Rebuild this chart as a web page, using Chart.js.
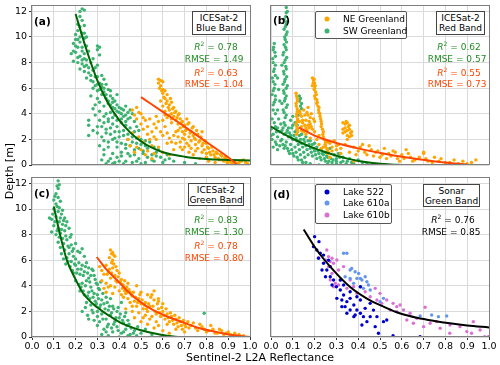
<!DOCTYPE html>
<html>
<head>
<meta charset="utf-8">
<script src="https://cdn.jsdelivr.net/npm/chart.js@4.4.1/dist/chart.umd.min.js"></script>
<style>
  body { margin: 0; background: #fff; }
  #wrap { position: relative; width: 500px; height: 365px; font-family: 'DejaVu Sans', sans-serif; }
  #wrap canvas { position: absolute; left: 0; top: 0; }
  .t { position: absolute; white-space: nowrap; font-size: 9px; line-height: 1; transform: translate(-50%, -50%); }
  .l { transform: translate(0, -50%); }
  .tag { font-weight: bold; font-size: 10.5px; }
  .box { position: absolute; border: 1px solid #444; background: #fff; box-sizing: border-box;
         font-size: 9px; line-height: 10px; text-align: center; padding-top: 1px; }
  .leg { position: absolute; border: 1px solid #555; border-radius: 2px; background: rgba(255,255,255,0.85); box-sizing: border-box; }
  .dot { position: absolute; width: 5px; height: 5px; border-radius: 50%; transform: translate(-50%, -50%); }
  sup { font-size: 6px; vertical-align: 4px; }
</style>
</head>
<body>
<div id="wrap">
  <canvas id="pa" width="500" height="365"></canvas>
  <canvas id="pb" width="500" height="365"></canvas>
  <canvas id="pc" width="500" height="365"></canvas>
  <canvas id="pd" width="500" height="365"></canvas>

  <!-- axis titles -->
  <div class="t" style="left:9px; top:171px; font-size:11px; transform:translate(-50%,-50%) rotate(-90deg);">Depth [m]</div>
  <div class="t" style="left:260px; top:357px; font-size:11px;">Sentinel-2 L2A Reflectance</div>

  <!-- panel a -->
  <div class="t l tag" style="left:34px; top:21px;">(a)</div>
  <div class="box" style="left:192px; top:11px; width:54px; height:24px;">ICESat-2<br>Blue Band</div>
  <div class="t" style="left:216px; top:46px; color:#228B22;"><i>R</i><sup>2</sup> = 0.78</div>
  <div class="t" style="left:214px; top:59px; color:#228B22;">RMSE = 1.49</div>
  <div class="t" style="left:216px; top:72px; color:#FF4500;"><i>R</i><sup>2</sup> = 0.63</div>
  <div class="t" style="left:214px; top:84px; color:#FF4500;">RMSE = 1.04</div>

  <!-- panel b -->
  <div class="t l tag" style="left:273px; top:20px;">(b)</div>
  <div class="leg" style="left:315px; top:11px; width:92px; height:28px;"></div>
  <div class="dot" style="left:327px; top:19px; background:#FFA500;"></div>
  <div class="t l" style="left:343px; top:19px;">NE Greenland</div>
  <div class="dot" style="left:327px; top:31px; background:#3CB371;"></div>
  <div class="t l" style="left:343px; top:31px;">SW Greenland</div>
  <div class="box" style="left:436px; top:11px; width:49px; height:24px;">ICESat-2<br>Red Band</div>
  <div class="t" style="left:459px; top:46px; color:#228B22;"><i>R</i><sup>2</sup> = 0.62</div>
  <div class="t" style="left:457px; top:59px; color:#228B22;">RMSE = 0.57</div>
  <div class="t" style="left:459px; top:72px; color:#FF4500;"><i>R</i><sup>2</sup> = 0.55</div>
  <div class="t" style="left:457px; top:84px; color:#FF4500;">RMSE = 0.73</div>

  <!-- panel c -->
  <div class="t l tag" style="left:34px; top:193px;">(c)</div>
  <div class="box" style="left:188px; top:183px; width:56px; height:23px;">ICESat-2<br>Green Band</div>
  <div class="t" style="left:216px; top:219px; color:#228B22;"><i>R</i><sup>2</sup> = 0.83</div>
  <div class="t" style="left:214px; top:232px; color:#228B22;">RMSE = 1.30</div>
  <div class="t" style="left:216px; top:245px; color:#FF4500;"><i>R</i><sup>2</sup> = 0.78</div>
  <div class="t" style="left:214px; top:258px; color:#FF4500;">RMSE = 0.80</div>

  <!-- panel d -->
  <div class="t l tag" style="left:273px; top:194px;">(d)</div>
  <div class="leg" style="left:315px; top:184px; width:77px; height:40px;"></div>
  <div class="dot" style="left:327px; top:192px; background:#0000CD;"></div>
  <div class="t l" style="left:343px; top:192px;">Lake 522</div>
  <div class="dot" style="left:327px; top:203px; background:#6495ED;"></div>
  <div class="t l" style="left:343px; top:203px;">Lake 610a</div>
  <div class="dot" style="left:327px; top:215px; background:#DA70D6;"></div>
  <div class="t l" style="left:343px; top:215px;">Lake 610b</div>
  <div class="box" style="left:423px; top:184px; width:57px; height:23px;">Sonar<br>Green Band</div>
  <div class="t" style="left:453px; top:219px;"><i>R</i><sup>2</sup> = 0.76</div>
  <div class="t" style="left:451px; top:232px;">RMSE = 0.85</div>
</div>

<script>
// tick values
const xTicks = [0, 0.1, 0.2, 0.3, 0.4, 0.5, 0.6, 0.7, 0.8, 0.9, 1.0];
const yTicks = [0, 2, 4, 6, 8, 10, 12];

// (a) blue band, ICESat-2
const aSW = [[0.23,12.2],[0.22,12.0],[0.24,12.1],[0.22,11.6],[0.23,11.3],[0.21,11.0],[0.22,10.8],[0.24,10.9],[0.21,10.5],[0.23,10.3],[0.22,10.0],[0.24,9.9],[0.19,9.5],[0.2,9.3],[0.21,9.2],[0.23,9.2],[0.25,9.3],[0.18,8.7],[0.2,8.8],[0.22,8.5],[0.24,8.7],[0.26,8.9],[0.19,8.1],[0.21,8.0],[0.23,7.9],[0.25,8.2],[0.27,8.0],[0.3,9.3],[0.31,9.2],[0.3,9.0],[0.31,8.6],[0.22,7.5],[0.24,7.3],[0.26,7.6],[0.28,7.4],[0.3,7.8],[0.32,7.0],[0.25,6.8],[0.27,6.6],[0.29,6.9],[0.31,6.4],[0.33,6.7],[0.28,6.0],[0.3,5.8],[0.33,6.0],[0.35,5.9],[0.27,5.4],[0.3,5.2],[0.32,5.5],[0.34,5.2],[0.36,5.4],[0.38,5.0],[0.29,4.7],[0.33,4.6],[0.35,4.8],[0.37,4.5],[0.39,4.7],[0.41,4.4],[0.43,4.6],[0.45,4.3],[0.31,4.2],[0.34,4.0],[0.36,4.1],[0.38,3.9],[0.4,4.1],[0.42,3.8],[0.44,3.6],[0.26,3.5],[0.26,3.1],[0.26,2.3],[0.31,3.5],[0.33,3.3],[0.35,3.4],[0.37,3.2],[0.39,3.0],[0.41,3.3],[0.43,3.1],[0.45,2.9],[0.47,2.6],[0.3,2.5],[0.32,2.2],[0.34,2.8],[0.36,2.4],[0.38,2.1],[0.4,2.6],[0.42,2.3],[0.44,2.0],[0.46,1.8],[0.48,2.1],[0.5,1.6],[0.52,1.9],[0.31,1.5],[0.33,1.2],[0.35,1.8],[0.37,0.9],[0.39,1.4],[0.41,1.0],[0.43,1.6],[0.45,0.7],[0.47,1.2],[0.49,0.5],[0.51,0.9],[0.53,1.3],[0.55,0.8],[0.57,1.0],[0.59,0.6],[0.32,0.4],[0.34,0.1],[0.36,0.5],[0.38,0.2],[0.4,0.3],[0.42,0.1],[0.46,0.2],[0.5,0.1],[0.56,0.3],[0.6,0.2],[0.62,0.8],[0.65,0.3],[0.7,0.2],[0.75,0.1],
    [0.2,10.2],[0.21,9.8],[0.22,9.6],[0.23,8.9],[0.24,8.3],[0.25,7.8],[0.26,7.2],[0.27,7.0],[0.28,6.5],[0.29,6.2],[0.3,6.3],[0.31,5.9],[0.32,6.1],[0.33,5.7],[0.34,5.5],[0.35,5.0],[0.36,4.7],[0.37,4.9],[0.38,4.4],[0.39,4.2],[0.4,4.5],[0.41,4.0],[0.42,4.3],[0.43,3.9],[0.44,4.1],[0.45,3.7],[0.46,4.0],[0.47,3.4],[0.48,3.0],[0.49,2.7],[0.33,3.8],[0.35,3.6],[0.37,3.7],[0.39,3.5],[0.41,3.6],[0.43,3.4],[0.32,3.0],[0.34,2.5],[0.36,2.9],[0.38,2.6],[0.4,2.2],[0.42,2.7],[0.44,2.4],[0.46,2.2],[0.48,1.7],[0.5,2.0],[0.52,1.5],[0.54,1.8],[0.56,1.4],[0.58,1.2],[0.33,1.9],[0.35,1.4],[0.37,2.0],[0.39,1.8],[0.41,1.7],[0.43,1.3],[0.45,1.5],[0.47,0.8],[0.49,1.3],[0.51,1.1],[0.53,0.6],[0.55,0.4],[0.57,0.7],[0.61,0.4],[0.63,0.5],[0.33,0.8],[0.35,0.3],[0.37,0.1],[0.39,0.6],[0.41,0.7],[0.43,0.3],[0.44,0.9],[0.48,0.3],[0.52,0.2],[0.24,10.3],[0.25,10.0],[0.2,9.8],[0.19,8.9],[0.21,8.4],[0.23,8.2],[0.28,8.3],[0.29,7.6],[0.24,7.7],[0.3,6.9],[0.32,6.3],[0.34,6.3],[0.36,5.8],[0.37,5.2],[0.39,5.5],[0.31,4.9],[0.28,4.4],[0.29,3.9],[0.3,3.0],[0.28,2.7]];
const aNE = [[0.46,4.3],[0.47,3.9],[0.48,3.6],[0.49,4.1],[0.5,3.2],[0.51,2.8],[0.52,3.5],[0.53,2.4],[0.44,2.0],[0.45,1.5],[0.47,1.0],[0.5,1.2],[0.52,0.8],[0.55,1.5],[0.55,2.6],[0.56,3.2],[0.57,3.8],[0.58,6.7],[0.58,6.4],[0.59,6.6],[0.59,6.2],[0.6,6.5],[0.6,5.9],[0.6,5.6],[0.61,5.8],[0.61,5.2],[0.62,5.0],[0.62,5.5],[0.63,4.7],[0.63,4.3],[0.64,4.9],[0.64,4.0],[0.65,4.5],[0.65,3.8],[0.66,4.2],[0.66,3.5],[0.67,3.9],[0.67,3.2],[0.68,3.6],[0.68,2.9],[0.69,3.4],[0.69,2.6],[0.7,3.1],[0.7,2.4],[0.71,3.6],[0.71,2.8],[0.72,2.2],[0.72,3.3],[0.73,2.6],[0.73,1.9],[0.74,2.3],[0.74,3.0],[0.75,2.0],[0.75,1.6],[0.76,2.4],[0.76,1.3],[0.77,1.9],[0.78,1.5],[0.78,2.6],[0.79,1.2],[0.8,1.7],[0.8,0.9],[0.81,1.3],[0.82,0.8],[0.83,1.1],[0.84,0.6],[0.85,0.9],[0.86,0.4],[0.87,0.7],[0.88,0.3],[0.89,0.5],[0.9,0.2],[0.91,0.4],[0.92,0.1],[0.93,0.3],[0.95,0.2],[0.97,0.4],[0.99,0.1],[0.57,2.0],[0.58,1.4],[0.6,2.3],[0.62,1.7],[0.63,2.1],[0.65,1.2],[0.66,2.6],[0.68,1.8],[0.7,1.4],[0.72,1.0],[0.62,3.7],[0.6,4.6],[0.61,4.2],[0.59,5.0],[0.64,3.3],[0.67,2.2],[0.69,1.2],[0.74,0.8],[0.77,0.5],[0.81,0.3],[0.84,0.2],[0.55,0.5],
    [0.585,6.0],[0.595,5.8],[0.605,5.3],[0.615,4.8],[0.625,4.5],[0.635,5.2],[0.645,4.4],[0.655,4.1],[0.665,3.7],[0.675,4.0],[0.685,3.3],[0.695,3.0],[0.705,2.7],[0.715,3.2],[0.725,2.5],[0.735,2.9],[0.745,2.1],[0.755,2.7],[0.765,1.8],[0.775,2.2],[0.785,1.7],[0.795,1.9],[0.805,1.4],[0.815,1.0],[0.825,1.4],[0.835,0.8],[0.845,1.0],[0.855,0.5],[0.865,0.8],[0.875,0.4],[0.885,0.6],[0.895,0.2],[0.905,0.3],[0.915,0.2],[0.94,0.1],[0.96,0.3],[0.98,0.2],[0.48,4.5],[0.5,4.0],[0.51,3.7],[0.53,3.0],[0.54,3.6],[0.54,2.0],[0.56,2.2],[0.57,2.9],[0.58,3.4],[0.59,2.6],[0.61,3.0],[0.62,2.5],[0.64,1.8],[0.66,1.7],[0.68,1.4],[0.7,2.0],[0.71,1.7],[0.73,1.3],[0.75,1.1],[0.78,1.0],[0.8,0.6],[0.46,2.5],[0.48,1.4],[0.49,2.2],[0.51,1.8],[0.53,1.1],[0.56,0.9],[0.6,1.0],[0.63,0.8],[0.65,2.3],[0.67,2.7],[0.69,2.1],[0.72,1.5],[0.6,3.5],[0.61,3.9],[0.63,3.9],[0.64,3.6]];
const aFitSW = [[0.2,11.8],[0.25,9.0],[0.3,6.6],[0.35,4.8],[0.4,3.5],[0.45,2.55],[0.5,1.85],[0.55,1.35],[0.6,1.0],[0.7,0.65],[0.8,0.47],[0.9,0.4],[1.0,0.35]];
const aFitNE = [[0.5,5.3],[0.6,4.15],[0.7,3.0],[0.8,1.8],[0.9,0.6],[0.94,0.05]];

// (b) red band, ICESat-2
const bSW = [[0.07,12.3],[0.07,11.9],[0.06,11.4],[0.07,11.0],[0.06,10.6],[0.07,10.2],[0.065,9.8],[0.06,9.4],[0.07,9.0],[0.055,8.6],[0.065,8.2],[0.05,7.8],[0.07,7.5],[0.06,7.1],[0.065,6.7],[0.055,6.3],[0.07,6.0],[0.06,5.6],[0.065,5.2],[0.05,4.8],[0.07,4.5],[0.06,4.1],[0.065,3.7],[0.015,9.5],[0.01,9.0],[0.02,8.5],[0.01,8.0],[0.015,7.5],[0.02,7.0],[0.01,6.5],[0.015,6.0],[0.005,5.5],[0.02,5.1],[0.01,4.7],[0.03,6.8],[0.035,5.9],[0.04,5.0],[0.03,4.3],[0.13,5.4],[0.13,5.0],[0.135,4.6],[0.13,4.2],[0.125,3.9],[0.1,3.8],[0.11,3.3],[0.09,3.5],[0.0,2.8],[0.01,2.4],[0.02,3.0],[0.03,2.2],[0.04,2.6],[0.05,2.0],[0.06,2.4],[0.07,1.8],[0.08,2.2],[0.09,1.6],[0.1,2.0],[0.11,1.4],[0.12,1.9],[0.13,1.2],[0.14,1.7],[0.15,1.0],[0.16,1.5],[0.17,0.8],[0.18,1.3],[0.19,0.7],[0.2,1.1],[0.21,0.5],[0.22,0.9],[0.23,0.4],[0.24,0.8],[0.25,0.3],[0.26,0.6],[0.28,0.2],[0.3,0.5],[0.32,0.2],[0.35,0.3],[0.38,0.1],[0.42,0.2],[0.02,1.8],[0.04,1.5],[0.06,1.3],[0.08,1.1],[0.1,0.9],[0.12,0.6],[0.14,0.4],[0.16,0.2],[0.18,0.1],[0.03,2.9],[0.05,2.7],[0.07,2.5],[0.09,2.3],[0.11,2.6],[0.13,2.3],[0.15,2.0],[0.17,1.9],[0.19,1.6],[0.21,1.4],[0.23,1.2],[0.25,1.0],[0.27,1.3],[0.29,0.8],[0.31,0.9],[0.33,0.6],[0.36,0.5],[0.4,0.4],[0.44,0.1],[0.26,0.1],[0.22,0.0],[0.3,0.1],[0.005,2.0],[0.015,3.3],[0.025,1.6],
    [0.075,12.0],[0.068,11.6],[0.072,11.2],[0.066,10.8],[0.074,10.4],[0.063,10.0],[0.071,9.6],[0.067,9.2],[0.058,8.8],[0.072,8.4],[0.06,8.0],[0.068,7.7],[0.058,7.3],[0.072,6.9],[0.062,6.5],[0.075,6.2],[0.058,5.8],[0.07,5.4],[0.062,5.0],[0.075,4.7],[0.056,4.3],[0.07,3.9],[0.06,3.3],[0.012,9.2],[0.018,8.8],[0.008,8.3],[0.02,7.8],[0.012,7.3],[0.006,6.8],[0.018,6.3],[0.01,5.8],[0.02,5.4],[0.015,4.9],[0.01,4.3],[0.02,4.0],[0.005,3.6],[0.045,3.2],[0.055,2.9],[0.065,3.1],[0.075,2.7],[0.085,2.5],[0.095,2.9],[0.105,2.3],[0.115,2.1],[0.125,1.6],[0.135,2.0],[0.145,1.4],[0.155,1.8],[0.165,1.2],[0.175,1.6],[0.185,1.0],[0.195,1.3],[0.205,0.8],[0.215,1.1],[0.225,0.6],[0.235,0.9],[0.245,0.5],[0.255,0.7],[0.265,0.3],[0.275,0.5],[0.285,0.4],[0.3,0.3],[0.315,0.6],[0.33,0.3],[0.345,0.1],[0.37,0.2],[0.045,1.9],[0.055,1.6],[0.065,1.5],[0.075,1.3],[0.085,0.9],[0.095,1.2],[0.105,0.7],[0.115,1.0],[0.125,0.4],[0.135,0.8],[0.145,0.2],[0.155,0.6],[0.01,1.4],[0.03,1.2],[0.0,2.3],[0.035,3.6],[0.025,2.6],[0.14,2.4],[0.16,2.2],[0.18,1.9],[0.2,1.7],[0.12,2.8],[0.1,3.1],[0.08,2.9],[0.14,4.4],[0.135,5.2],[0.14,4.8],[0.12,3.1]];
const bNE = [[0.115,5.6],[0.12,5.2],[0.115,4.8],[0.12,4.4],[0.118,4.0],[0.122,3.6],[0.115,3.2],[0.12,2.8],[0.118,2.4],[0.13,4.2],[0.14,3.8],[0.15,4.3],[0.16,3.5],[0.17,3.9],[0.18,3.2],[0.14,3.0],[0.15,2.6],[0.16,2.9],[0.17,4.5],[0.18,3.7],[0.19,2.8],[0.13,3.4],[0.2,3.4],[0.19,6.8],[0.195,6.6],[0.2,6.4],[0.19,6.2],[0.2,6.0],[0.205,5.7],[0.2,5.4],[0.21,5.1],[0.21,4.8],[0.22,4.5],[0.22,4.1],[0.225,3.8],[0.23,3.4],[0.23,3.0],[0.24,2.6],[0.24,2.2],[0.25,1.8],[0.25,1.5],[0.26,1.2],[0.26,0.9],[0.33,3.3],[0.34,3.2],[0.35,3.3],[0.36,3.1],[0.34,2.9],[0.35,2.7],[0.36,2.8],[0.33,2.5],[0.35,2.3],[0.37,2.6],[0.36,2.2],[0.21,2.0],[0.22,1.6],[0.23,1.3],[0.27,1.7],[0.28,1.4],[0.29,1.9],[0.3,1.2],[0.31,1.6],[0.32,0.9],[0.38,1.4],[0.4,1.1],[0.42,1.6],[0.44,0.8],[0.46,1.2],[0.48,1.0],[0.5,0.6],[0.52,1.3],[0.54,0.9],[0.56,1.1],[0.58,0.5],[0.6,0.8],[0.62,1.2],[0.64,0.6],[0.66,0.4],[0.7,0.9],[0.7,1.0],[0.72,0.3],[0.75,0.6],[0.78,0.5],[0.8,0.2],[0.84,0.4],[0.88,0.3],[0.94,0.4],[0.9,0.1],[0.27,0.6],[0.38,0.3],
    [0.117,5.4],[0.121,5.0],[0.116,4.6],[0.121,4.2],[0.117,3.8],[0.12,3.4],[0.118,3.0],[0.122,2.6],[0.135,4.0],[0.145,3.5],[0.155,3.9],[0.165,4.1],[0.175,3.4],[0.185,3.0],[0.145,3.3],[0.155,3.1],[0.165,2.7],[0.175,2.9],[0.185,4.0],[0.195,3.6],[0.17,3.1],[0.14,2.7],[0.198,6.7],[0.193,6.4],[0.203,6.2],[0.198,5.9],[0.208,5.5],[0.203,5.2],[0.212,4.9],[0.215,4.6],[0.218,4.3],[0.224,4.0],[0.228,3.6],[0.232,3.2],[0.236,2.8],[0.238,2.4],[0.244,2.0],[0.248,1.6],[0.255,1.3],[0.262,1.0],[0.345,3.4],[0.355,3.0],[0.34,2.6],[0.365,2.5],[0.33,2.8],[0.35,2.0],[0.37,2.3],[0.24,1.4],[0.26,1.8],[0.28,1.1],[0.3,1.5],[0.32,1.3],[0.34,1.6],[0.36,1.0],[0.39,0.8],[0.41,1.4],[0.43,1.0],[0.45,1.5],[0.47,0.7],[0.49,1.1],[0.51,0.8],[0.53,0.5],[0.55,0.7],[0.57,1.0],[0.59,0.3],[0.61,0.5],[0.63,0.9],[0.65,0.3],[0.68,0.6],[0.71,0.5],[0.74,0.2],[0.77,0.3],[0.82,0.2],[0.86,0.1],[0.92,0.2],[0.16,2.4],[0.18,2.1],[0.2,2.6],[0.22,2.3]];
const bFitSW = [[0,3.0],[0.05,2.5],[0.1,2.05],[0.15,1.65],[0.2,1.3],[0.25,1.0],[0.3,0.72],[0.35,0.5],[0.4,0.32],[0.45,0.2],[0.5,0.1],[0.55,0.04],[0.6,0.0]];
const bFitNE = [[0.127,2.94],[0.2,2.3],[0.285,1.8],[0.4,1.3],[0.515,0.9],[0.6,0.65],[0.745,0.3],[0.82,0.15],[0.9,0.04]];

// (c) green band, ICESat-2
const cSW = [[0.12,12.2],[0.125,11.9],[0.12,11.6],[0.11,11.2],[0.12,10.9],[0.1,10.7],[0.11,10.4],[0.13,10.6],[0.1,10.0],[0.12,9.8],[0.08,9.3],[0.09,9.2],[0.11,9.4],[0.13,9.3],[0.15,9.3],[0.16,9.0],[0.14,8.8],[0.1,8.7],[0.12,8.5],[0.17,8.5],[0.09,8.2],[0.11,8.0],[0.13,8.1],[0.15,8.3],[0.14,7.7],[0.12,7.4],[0.16,7.6],[0.18,7.2],[0.13,7.0],[0.15,6.8],[0.17,6.5],[0.19,6.9],[0.16,6.2],[0.18,5.9],[0.2,6.1],[0.22,6.6],[0.23,5.6],[0.21,5.3],[0.25,5.8],[0.19,5.0],[0.22,4.9],[0.24,5.1],[0.26,5.4],[0.27,4.8],[0.28,5.2],[0.29,4.5],[0.2,4.4],[0.23,4.2],[0.25,4.4],[0.27,3.9],[0.3,4.1],[0.31,3.7],[0.22,3.6],[0.24,3.3],[0.26,3.5],[0.28,3.1],[0.3,3.3],[0.32,2.9],[0.34,3.1],[0.25,2.7],[0.27,2.5],[0.29,2.8],[0.31,2.3],[0.33,2.6],[0.35,2.1],[0.37,2.4],[0.39,2.0],[0.28,1.9],[0.3,1.6],[0.32,1.8],[0.34,1.4],[0.36,1.7],[0.38,1.2],[0.4,1.5],[0.42,1.1],[0.44,1.3],[0.3,0.9],[0.33,0.6],[0.35,1.0],[0.37,0.4],[0.39,0.8],[0.41,0.3],[0.43,0.6],[0.45,0.2],[0.47,0.5],[0.5,0.3],[0.35,0.1],[0.4,0.0],[0.32,0.2],[0.52,0.6],[0.55,0.2],[0.6,0.1],[0.79,1.85],[0.2,7.3],[0.18,8.0],[0.24,6.3],[0.26,4.6],[0.23,2.0],[0.26,1.4],[0.36,3.0],[0.41,2.7],[0.43,1.9],
    [0.115,11.8],[0.105,11.0],[0.115,10.2],[0.125,10.1],[0.095,9.6],[0.105,9.0],[0.125,9.0],[0.135,9.6],[0.145,9.1],[0.155,8.7],[0.115,8.3],[0.125,7.8],[0.135,8.4],[0.145,7.3],[0.155,7.9],[0.165,7.1],[0.175,7.8],[0.185,6.7],[0.135,6.5],[0.145,6.1],[0.155,5.7],[0.165,5.9],[0.175,5.5],[0.185,5.2],[0.195,5.7],[0.205,5.0],[0.215,5.8],[0.225,5.3],[0.235,4.8],[0.245,5.5],[0.255,5.0],[0.265,4.3],[0.275,5.3],[0.285,4.8],[0.295,4.2],[0.305,3.8],[0.315,4.3],[0.215,4.1],[0.225,3.9],[0.235,3.6],[0.245,4.0],[0.255,3.2],[0.265,3.0],[0.275,3.6],[0.285,3.4],[0.295,2.6],[0.305,3.0],[0.315,2.5],[0.325,3.4],[0.335,2.2],[0.345,2.7],[0.355,2.4],[0.365,1.9],[0.375,2.2],[0.385,1.5],[0.395,2.3],[0.405,1.8],[0.415,1.3],[0.425,1.6],[0.435,0.9],[0.445,1.0],[0.455,0.7],[0.465,0.3],[0.485,0.8],[0.31,1.2],[0.325,1.4],[0.345,0.8],[0.365,0.7],[0.375,1.0],[0.395,0.5],[0.42,0.4],[0.44,0.1],[0.48,0.1],[0.245,2.3],[0.255,1.7],[0.275,2.1],[0.285,1.3],[0.3,2.0],[0.34,0.4],[0.2,5.6],[0.19,6.3],[0.21,6.7],[0.23,6.9],[0.17,7.0],[0.14,9.9]];
const cNE = [[0.36,6.8],[0.365,6.5],[0.37,6.6],[0.38,6.3],[0.37,6.0],[0.31,5.5],[0.32,5.2],[0.33,4.9],[0.34,5.6],[0.35,5.1],[0.36,4.6],[0.37,5.4],[0.38,4.8],[0.39,4.3],[0.4,5.0],[0.41,4.5],[0.42,4.0],[0.43,3.7],[0.44,4.2],[0.45,3.5],[0.33,3.8],[0.35,3.9],[0.4,3.6],[0.41,3.3],[0.42,3.1],[0.43,3.4],[0.44,3.0],[0.45,2.7],[0.46,3.2],[0.47,2.8],[0.48,2.4],[0.49,3.0],[0.5,2.6],[0.51,2.2],[0.52,2.7],[0.53,2.0],[0.54,2.4],[0.55,3.3],[0.56,2.9],[0.57,1.8],[0.58,2.2],[0.59,1.6],[0.6,2.0],[0.61,1.4],[0.62,1.8],[0.63,1.2],[0.64,1.6],[0.65,1.0],[0.66,1.4],[0.67,0.8],[0.68,1.2],[0.69,0.6],[0.7,1.0],[0.72,0.7],[0.74,1.1],[0.76,0.5],[0.78,0.8],[0.8,0.4],[0.82,0.9],[0.84,0.3],[0.86,0.6],[0.88,0.2],[0.9,0.4],[0.92,0.1],[0.95,0.2],[0.47,1.5],[0.5,1.2],[0.53,1.0],[0.56,0.7],[0.6,0.5],[0.63,0.3],[0.48,4.0],[0.5,3.5],[0.52,1.7],[0.46,2.0],[0.58,3.0],[0.54,1.4],[0.58,0.9],[0.43,2.2],[0.38,3.9],[0.39,5.2],[0.6,2.6],
    [0.355,6.2],[0.375,6.4],[0.365,5.8],[0.375,5.7],[0.385,5.5],[0.355,5.3],[0.345,4.9],[0.365,5.0],[0.375,4.7],[0.385,4.4],[0.395,4.7],[0.405,4.3],[0.415,4.1],[0.425,4.4],[0.435,3.9],[0.435,3.5],[0.425,3.6],[0.415,3.8],[0.445,3.7],[0.455,3.3],[0.465,3.5],[0.475,3.1],[0.485,2.7],[0.495,3.3],[0.505,2.9],[0.515,2.5],[0.525,2.2],[0.535,2.6],[0.545,3.1],[0.555,2.4],[0.565,2.0],[0.575,2.6],[0.585,1.9],[0.595,2.3],[0.605,1.7],[0.615,2.2],[0.625,1.5],[0.635,1.9],[0.645,1.3],[0.655,1.7],[0.665,1.1],[0.675,1.5],[0.685,0.9],[0.695,1.3],[0.705,0.8],[0.715,1.2],[0.73,0.9],[0.75,0.7],[0.77,1.0],[0.79,0.6],[0.81,0.5],[0.83,0.6],[0.85,0.3],[0.87,0.5],[0.89,0.3],[0.91,0.2],[0.93,0.3],[0.97,0.1],[0.32,4.4],[0.34,4.2],[0.36,4.0],[0.34,3.5],[0.37,3.4],[0.46,2.4],[0.49,1.9],[0.51,1.5],[0.55,1.6],[0.57,1.2],[0.62,1.0],[0.66,0.6],[0.7,0.4],[0.58,2.8],[0.53,3.3],[0.56,3.6]];
const cFitSW = [[0.1,10.2],[0.13,7.9],[0.16,6.0],[0.2,4.5],[0.235,3.4],[0.3,2.3],[0.36,1.6],[0.42,1.0],[0.495,0.55],[0.58,0.22],[0.67,0.0]];
const cFitNE = [[0.297,6.25],[0.34,5.3],[0.39,4.45],[0.44,3.55],[0.495,2.76],[0.55,2.15],[0.62,1.6],[0.7,1.1],[0.77,0.68],[0.85,0.38],[0.92,0.15],[1.0,0.0]];

// (d) green band, sonar
const d522 = [[0.2,7.84],[0.22,7.45],[0.195,7.06],[0.21,6.8],[0.226,6.54],[0.218,6.15],[0.241,5.76],[0.234,5.23],[0.256,5.23],[0.272,4.71],[0.25,4.71],[0.287,4.45],[0.28,4.06],[0.3,3.93],[0.318,3.67],[0.333,3.28],[0.325,2.89],[0.348,2.76],[0.363,3.02],[0.34,2.37],[0.363,2.11],[0.38,2.5],[0.394,2.11],[0.386,1.72],[0.41,1.85],[0.424,1.59],[0.348,1.85],[0.44,1.2],[0.455,1.59],[0.478,0.81],[0.493,0.29],[0.516,1.2],[0.531,1.33],[0.56,0.1],[0.684,0.03],[0.318,4.45],[0.333,4.06],[0.302,3.02],[0.325,2.37],[0.394,3.15],[0.41,2.89],[0.363,3.54],[0.272,5.5],[0.264,6.0],[0.241,6.4],[0.41,3.93],[0.455,2.63],[0.432,2.24],[0.47,2.1],[0.486,1.59],[0.38,1.59],[0.417,0.94]];
const d610a = [[0.333,6.54],[0.348,6.54],[0.363,5.23],[0.37,5.36],[0.386,5.1],[0.394,4.58],[0.41,4.58],[0.417,4.45],[0.432,4.71],[0.44,4.32],[0.41,3.93],[0.424,3.8],[0.363,4.58],[0.34,4.71],[0.379,4.19],[0.455,3.67],[0.516,3.02],[0.5,2.76],[0.684,1.64],[0.737,1.72],[0.768,1.59],[0.806,1.64],[0.447,4.06],[0.402,4.97]];
const d610b = [[0.256,6.8],[0.264,6.28],[0.28,6.15],[0.287,5.76],[0.272,5.89],[0.302,6.02],[0.31,5.23],[0.28,4.97],[0.272,4.45],[0.295,4.19],[0.31,4.06],[0.287,3.93],[0.318,4.45],[0.348,3.8],[0.363,4.45],[0.333,5.5],[0.379,3.93],[0.394,3.41],[0.432,3.54],[0.478,3.8],[0.455,3.15],[0.486,2.89],[0.508,2.63],[0.531,2.89],[0.56,2.63],[0.592,2.5],[0.608,2.11],[0.547,2.11],[0.577,1.98],[0.638,1.85],[0.669,1.46],[0.707,2.32],[0.653,1.07],[0.7,0.81],[0.76,1.2],[0.776,0.68],[0.821,0.94],[0.867,0.81],[0.898,0.42],[0.928,1.2],[0.92,0.29],[0.959,0.55],[0.98,0.03],[0.997,0.03],[0.264,5.5],[0.25,6.02],[0.218,6.2],[0.5,3.41],[0.577,2.37],[0.623,1.33],[0.73,1.07],[0.82,0.29]];
const dFit = [[0.15,8.4],[0.21,6.8],[0.287,5.2],[0.363,3.9],[0.44,3.0],[0.516,2.37],[0.59,1.85],[0.67,1.5],[0.75,1.25],[0.82,1.07],[0.9,0.9],[1.0,0.75]];

const GREEN = '#3CB371', ORANGE = '#FFA500', DKGREEN = '#006400', RED = '#FF4500';

function pts(arr) {
    return arr.map(p => ({ x: p[0], y: p[1] }));
}

function dots(arr, color) {
    return { data: pts(arr), backgroundColor: color, borderWidth: 0, pointRadius: 1.7, pointHoverRadius: 1.7 };
}

function fit(arr, color) {
    return { data: pts(arr), borderColor: color, borderWidth: 2, pointRadius: 0, showLine: true,
             cubicInterpolationMode: 'monotone' };
}

// draws the four spines on top of the data
const frame = {
    id: 'frame',
    afterDatasetsDraw(chart) {
        const a = chart.chartArea, ctx = chart.ctx;
        ctx.save();
        ctx.strokeStyle = '#7f7f7f';
        ctx.lineWidth = 1;
        ctx.strokeRect(Math.round(a.left) - 0.5, Math.round(a.top) + 0.5,
                       Math.round(a.right - a.left) + 1, Math.round(a.bottom - a.top) - 1);
        ctx.restore();
    }
};

function fixSize(prop, size) {
    return function(s) {
        s[prop] = size;
        s.paddingTop = 0; s.paddingBottom = 0; s.paddingLeft = 0; s.paddingRight = 0;
    };
}

function makePanel(id, datasets, showX, showY, padding) {
    const tickFont = { family: 'DejaVu Sans', size: 9.5 };
    return new Chart(document.getElementById(id), {
        type: 'scatter',
        data: { datasets: datasets },
        options: {
            responsive: false,
            animation: false,
            events: [],
            layout: { padding: padding },
            plugins: { legend: { display: false }, tooltip: { enabled: false } },
            scales: {
                x: {
                    type: 'linear', min: 0, max: 1,
                    afterBuildTicks: s => { s.ticks = xTicks.map(v => ({ value: v })); },
                    afterFit: fixSize('height', showX ? 14 : 0),
                    ticks: { display: showX, font: tickFont, color: '#000', padding: 1, maxRotation: 0,
                             autoSkip: false, callback: v => v.toFixed(1) },
                    grid: { color: '#dadada', lineWidth: 1, drawTicks: showX, tickLength: 3, tickColor: '#333' },
                    border: { display: false }
                },
                y: {
                    type: 'linear', min: 0, max: 12.5,
                    afterBuildTicks: s => { s.ticks = yTicks.map(v => ({ value: v })); },
                    afterFit: fixSize('width', showY ? 32 : 0),
                    ticks: { display: showY, font: tickFont, color: '#000', padding: 2 },
                    grid: { color: '#dadada', lineWidth: 1, drawTicks: showY, tickLength: 3, tickColor: '#333' },
                    border: { display: false }
                }
            }
        },
        plugins: [frame]
    });
}

makePanel('pa', [fit(aFitNE, RED), fit(aFitSW, DKGREEN), dots(aNE, ORANGE), dots(aSW, GREEN)],
    false, true, { left: 0, top: 5, right: 250, bottom: 200 });
makePanel('pb', [fit(bFitNE, RED), fit(bFitSW, DKGREEN), dots(bNE, ORANGE), dots(bSW, GREEN)],
    false, false, { left: 271, top: 5, right: 11, bottom: 200 });
makePanel('pc', [fit(cFitNE, RED), fit(cFitSW, DKGREEN), dots(cNE, ORANGE), dots(cSW, GREEN)],
    true, true, { left: 0, top: 177, right: 250, bottom: 14 });
makePanel('pd', [fit(dFit, '#000'), dots(d522, '#0000CD'), dots(d610a, '#6495ED'), dots(d610b, '#DA70D6')],
    true, false, { left: 271, top: 177, right: 11, bottom: 14 });
</script>
</body>
</html>
